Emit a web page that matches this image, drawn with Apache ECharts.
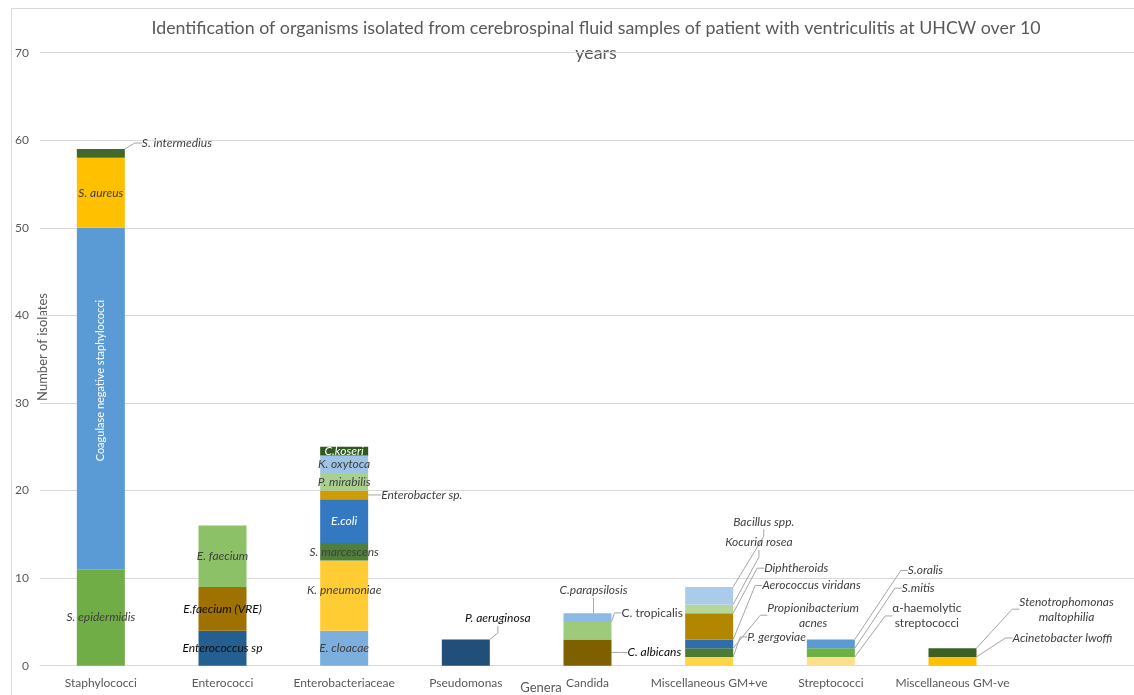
<!DOCTYPE html>
<html>
<head>
<meta charset="utf-8">
<title>Organisms isolated from CSF samples</title>
<script src="https://cdn.jsdelivr.net/npm/echarts@6/dist/echarts.min.js"></script>
<style>
  html, body { margin: 0; padding: 0; background: #ffffff; }
  #chart { width: 1134px; height: 695px; }
</style>
</head>
<body>
<div id="chart"></div>
<script>
// ---- data -------------------------------------------------------------
const genera = [
  'Staphylococci', 'Enterococci', 'Enterobacteriaceae', 'Pseudomonas',
  'Candida', 'Miscellaneous GM+ve', 'Streptococci', 'Miscellaneous GM-ve'
];

// organisms, listed bottom-to-top within each genus
const organisms = [
  'S. epidermidis', 'Coagulase negative staphylococci', 'S. aureus', 'S. intermedius',
  'Enterococcus sp', 'E.faecium (VRE)', 'E. faecium',
  'E. cloacae', 'K. pneumoniae', 'S. marcescens', 'E.coli', 'Enterobacter sp.',
  'P. mirabilis', 'K. oxytoca', 'C.koseri',
  'P. aeruginosa',
  'C. albicans', 'C. tropicalis', 'C.parapsilosis',
  'P. gergoviae', 'Propionibacterium\nacnes', 'Aerococcus viridans', 'Diphtheroids',
  'Kocuria rosea', 'Bacillus spp.',
  'α-haemolytic\nstreptococci', 'S.mitis', 'S.oralis',
  'Acinetobacter lwoffi', 'Stenotrophomonas\nmaltophilia'
];
const organismGenus = [
  0, 0, 0, 0,
  1, 1, 1,
  2, 2, 2, 2, 2, 2, 2, 2,
  3,
  4, 4, 4,
  5, 5, 5, 5, 5, 5,
  6, 6, 6,
  7, 7
];
const isolates = [
  11, 39, 8, 1,
  4, 5, 7,
  4, 8, 2, 5, 1, 2, 2, 1,
  3,
  3, 2, 1,
  1, 1, 1, 3, 1, 2,
  1, 1, 1,
  1, 1
];

const yMin = 0, yMax = 70, yStep = 10;

// ---- styling ----------------------------------------------------------
const FONT = 'Lato';
const fills = [
  '#70AD47', '#5B9BD5', '#FFC000', '#43682B',
  '#255E91', '#9E7100', '#8DC168',
  '#7CAFDD', '#FFCD33', '#4E8039', '#3279C2', '#CF9B06', '#A9D18E', '#9DC3E6', '#2F5A1F',
  '#224F7A',
  '#7F6000', '#9DCB7B', '#8DB9E4',
  '#FFD447', '#4B7B34', '#2E6EAF', '#B38600', '#B4D79C', '#AACBEA',
  '#FFE08A', '#6DB046', '#5B9BD5',
  '#FFC000', '#3D6125'
];

// text tone per organism label (default: dark grey italic)
const labelTone = {
  'Coagulase negative staphylococci': 'rotated',
  'E.coli': 'white',
  'C.koseri': 'white',
  'Enterococcus sp': 'black',
  'E.faecium (VRE)': 'black',
  'P. aeruginosa': 'black',
  'C. albicans': 'black',
  'C. tropicalis': 'upright',
  'α-haemolytic\nstreptococci': 'upright'
};

// labels placed beside the bar with a leader line;
// dx from the segment's right edge, dy from the segment's top edge
const besideBar = {
  'S. intermedius':               { dx: 17, dy: -6 },
  'Enterobacter sp.':             { dx: 13, dy: 4.4 },
  'P. aeruginosa':                { dx: 8,  dy: -21, align: 'center' },
  'C. albicans':                  { dx: 16, dy: 13 },
  'C. tropicalis':                { dx: 10, dy: -9 },
  'C.parapsilosis':               { dx: -18, dy: -23, align: 'center' },
  'P. gergoviae':                 { dx: 14, dy: -20 },
  'Propionibacterium\nacnes':     { dx: 80, dy: -33, align: 'center' },
  'Aerococcus viridans':          { dx: 29, dy: -54 },
  'Diphtheroids':                 { dx: 31, dy: -45 },
  'Kocuria rosea':                { dx: -8, dy: -62 },
  'Bacillus spp.':                { dx: 0,  dy: -65 },
  'α-haemolytic\nstreptococci':   { dx: 72, dy: -41, align: 'center' },
  'S.mitis':                      { dx: 47, dy: -60 },
  'S.oralis':                     { dx: 53, dy: -69 },
  'Acinetobacter lwoffi':         { dx: 36, dy: -19 },
  'Stenotrophomonas\nmaltophilia':{ dx: 90, dy: -39, align: 'center' }
};

// small nudges for labels kept inside their segment
// (the rotated label is offset in its own turned frame)
const insideOffset = {
  'Coagulase negative staphylococci': [18, 0],
  'K. pneumoniae': [0, -6]
};

// ---- build --------------------------------------------------------------
const series = organisms.map((name, k) => {
  const data = genera.map((_, g) => (g === organismGenus[k] ? isolates[k] : '-'));
  data.push('-'); // trailing empty band
  const tone = labelTone[name] || 'plain';
  const label = {
    show: true,
    position: 'inside',
    formatter: () => name,
    fontFamily: FONT,
    fontSize: 12,
    lineHeight: 15,
    fontStyle: (tone === 'upright' || tone === 'rotated') ? 'normal' : 'italic',
    color: tone === 'white' || tone === 'rotated' ? '#ffffff'
         : tone === 'black' ? '#0d0d0d' : '#404040'
  };
  if (tone === 'rotated') { label.rotate = 90; label.fontSize = 11; }
  if (insideOffset[name]) label.offset = insideOffset[name];

  const s = {
    name: name,
    type: 'bar',
    stack: 'isolates',
    barWidth: 48,
    data: data,
    itemStyle: { color: fills[k] },
    label: label,
    emphasis: { disabled: true }
  };
  const spot = besideBar[name];
  if (spot) {
    s.labelLine = { show: true, length2: 7, lineStyle: { color: '#a6a6a6', width: 1 } };
    s.labelLayout = p => ({
      x: p.rect.x + p.rect.width + spot.dx,
      y: p.rect.y + spot.dy,
      align: spot.align || 'left',
      verticalAlign: 'middle'
    });
  }
  return s;
});

const chart = echarts.init(document.getElementById('chart'), null, { renderer: 'canvas' });
chart.setOption({
  backgroundColor: '#ffffff',
  animation: false,
  grid: { left: 40, right: -1, top: 52.7, bottom: 29.3, containLabel: false, outerBoundsMode: 'none' },
  xAxis: {
    type: 'category',
    data: genera.concat(['']),
    axisLine: { lineStyle: { color: '#d9d9d9', width: 1 } },
    axisTick: { show: false },
    axisLabel: { interval: 0, color: '#595959', fontFamily: FONT, fontSize: 12, margin: 11 },
    splitLine: { show: false }
  },
  yAxis: {
    type: 'value',
    min: yMin, max: yMax, interval: yStep,
    axisLine: { show: false },
    axisTick: { show: false },
    axisLabel: { color: '#595959', fontFamily: FONT, fontSize: 12, margin: 11 },
    splitLine: { lineStyle: { color: '#d9d9d9', width: 1 } }
  },
  graphic: [
    {
      type: 'rect', silent: true, z: -10,
      shape: { x: 11.5, y: 8.5, width: 1400, height: 900 },
      style: { fill: 'none', stroke: '#d9d9d9', lineWidth: 1 }
    },
    {
      type: 'text', silent: true, x: 596, y: 15.5,
      style: {
        text: 'Identification of organisms isolated from cerebrospinal fluid samples of patient with ventriculitis at UHCW over 10\nyears',
        fontFamily: FONT, fontSize: 17.8, lineHeight: 25, fill: '#595959',
        textAlign: 'center', textVerticalAlign: 'top'
      }
    },
    {
      type: 'text', silent: true, x: 43, y: 347, rotation: Math.PI / 2,
      style: {
        text: 'Number of isolates', fontFamily: FONT, fontSize: 13, fill: '#595959',
        textAlign: 'center', textVerticalAlign: 'middle'
      }
    },
    {
      type: 'text', silent: true, x: 541, y: 688,
      style: {
        text: 'Genera', fontFamily: FONT, fontSize: 13, fill: '#595959',
        textAlign: 'center', textVerticalAlign: 'middle'
      }
    }
  ],
  series: series
});
</script>
</body>
</html>
